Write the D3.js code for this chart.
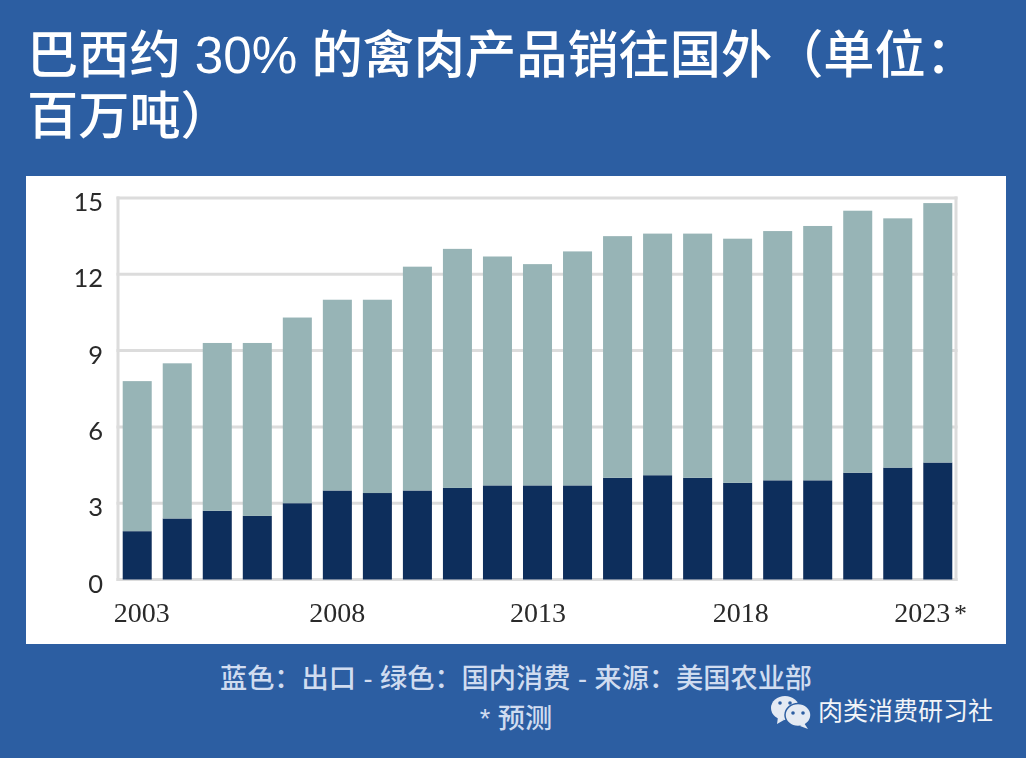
<!DOCTYPE html>
<html><head><meta charset="utf-8">
<script src="https://cdnjs.cloudflare.com/ajax/libs/d3/7.8.5/d3.min.js"></script>
<style>html,body{margin:0;padding:0;background:#2c5ea2;overflow:hidden}svg{display:block}</style>
</head><body><svg id="c" width="1026" height="758"></svg>
<script>
const years=[2003,2004,2005,2006,2007,2008,2009,2010,2011,2012,2013,2014,2015,2016,2017,2018,2019,2020,2021,2022,2023];
const exportsVal=[1.9,2.4,2.7,2.5,3.0,3.5,3.4,3.5,3.6,3.7,3.7,3.7,4.0,4.1,4.0,3.8,3.9,3.9,4.2,4.4,4.6];
const domestic=[5.9,6.1,6.6,6.8,7.3,7.5,7.6,8.8,9.4,9.0,8.7,9.2,9.5,9.5,9.6,9.6,9.8,10.0,10.3,9.8,10.2];
const yTicks=[0,3,6,9,12,15];
const xLabels=["2003","2008","2013","2018","2023"];
const titleLines=["巴西约 30% 的禽肉产品销往国外（单位：","百万吨）"];
const captionLines=["蓝色：出口 - 绿色：国内消费 - 来源：美国农业部","* 预测"];
const brand="肉类消费研习社";
const CJK='"Liberation Sans","Noto Sans CJK SC",sans-serif';
const svg=d3.select("#c");
const defs=svg.append("defs");
defs.append("filter").attr("id","soft").attr("x",0).attr("y",0).attr("width",1).attr("height",1)
 .append("feGaussianBlur").attr("stdDeviation",0.45);
svg.append("rect").attr("width",1026).attr("height",758).attr("fill","#2c5ea2");
svg.append("rect").attr("x",26).attr("y",176).attr("width",980).attr("height",468).attr("fill","#fff");
svg.append("text").attr("fill","#fff").attr("font-family",CJK).attr("font-weight",500).attr("font-size",51.2)
 .selectAll("tspan").data(titleLines).join("tspan")
 .attr("x",27).attr("y",(d,i)=>73+i*61).text(d=>d);
const x=d3.scaleBand().domain(years).range([118,957]).paddingInner(0.275).paddingOuter(0.1175);
const y=d3.scaleLinear().domain([0,15]).range([579.5,198]);
const chart=svg.append("g").attr("filter","url(#soft)");
chart.append("rect").attr("x",26).attr("y",176).attr("width",980).attr("height",468).attr("fill","#fff");
const grid=chart.append("g");
grid.selectAll("line").data(yTicks).join("line")
 .attr("x1",116.5).attr("x2",957.5).attr("y1",d=>y(d)).attr("y2",d=>y(d))
 .attr("stroke","#dcdcdc").attr("stroke-width",3);
grid.append("line").attr("x1",118).attr("x2",118).attr("y1",y(15)-1.5).attr("y2",y(0)+1.5).attr("stroke","#dcdcdc").attr("stroke-width",3);
grid.append("line").attr("x1",956).attr("x2",956).attr("y1",y(0)+1.5).attr("y2",y(15)-1.5).attr("stroke","#dcdcdc").attr("stroke-width",3);
const rows=years.map((yr,i)=>({year:yr,exp:exportsVal[i],dom:domestic[i]}));
const stack=d3.stack().keys(["exp","dom"])(rows);
const col={exp:"#112f5c",dom:"#97b4b6"};
chart.append("g").selectAll("g").data(stack).join("g").attr("fill",d=>col[d.key])
 .selectAll("rect").data(d=>d).join("rect")
 .attr("x",d=>x(d.data.year)).attr("width",x.bandwidth())
 .attr("y",d=>y(d[1])).attr("height",d=>y(d[0])-y(d[1]));
chart.append("g").selectAll("text").data(yTicks).join("text")
 .attr("x",103).attr("y",d=>y(d)+13).attr("text-anchor","end")
 .attr("font-family","Lato,sans-serif").attr("font-size",25.5).attr("fill","#2a2a2a").text(d=>d);
const dx={"2003":4.5,"2008":0,"2013":0.5,"2018":3,"2023":-15.5};
chart.append("g").selectAll("text").data(xLabels).join("text")
 .attr("x",d=>x(+d)+x.bandwidth()/2+dx[d]).attr("y",622).attr("text-anchor","middle")
 .attr("font-family",'"Liberation Serif",serif').attr("font-size",28).attr("fill","#2a2a2a").text(d=>d);
chart.append("text").attr("x",954).attr("y",622).attr("font-family",'"Liberation Serif",serif').attr("font-size",26).attr("fill","#2a2a2a").text("*");
svg.append("g").selectAll("text").data(captionLines).join("text")
 .attr("x",516).attr("y",(d,i)=>688+i*40).attr("text-anchor","middle")
 .attr("font-family",CJK).attr("font-weight",500).attr("font-size",27.2).attr("fill","#d0dcf0").text(d=>d);
svg.append("text").attr("x",818).attr("y",720).attr("font-family",CJK).attr("font-size",25).attr("fill","#f2f4f8").text(brand);
const ic=svg.append("g");
const f="#e4eaf3",b="#2c5ea2";
ic.append("ellipse").attr("cx",785).attr("cy",708).attr("rx",14).attr("ry",12).attr("fill",f);
ic.append("path").attr("d","M778 717l-1 7 7-4z").attr("fill",f);
ic.append("ellipse").attr("cx",798).attr("cy",715).attr("rx",13).attr("ry",11.5).attr("fill",f).attr("stroke",b).attr("stroke-width",1.5);
ic.append("path").attr("d","M804 723l4 6-8-3z").attr("fill",f);
[[780,703],[790,703],[793,713],[803,713]].forEach(p=>ic.append("circle").attr("cx",p[0]).attr("cy",p[1]).attr("r",1.8).attr("fill",b));
</script></body></html>
